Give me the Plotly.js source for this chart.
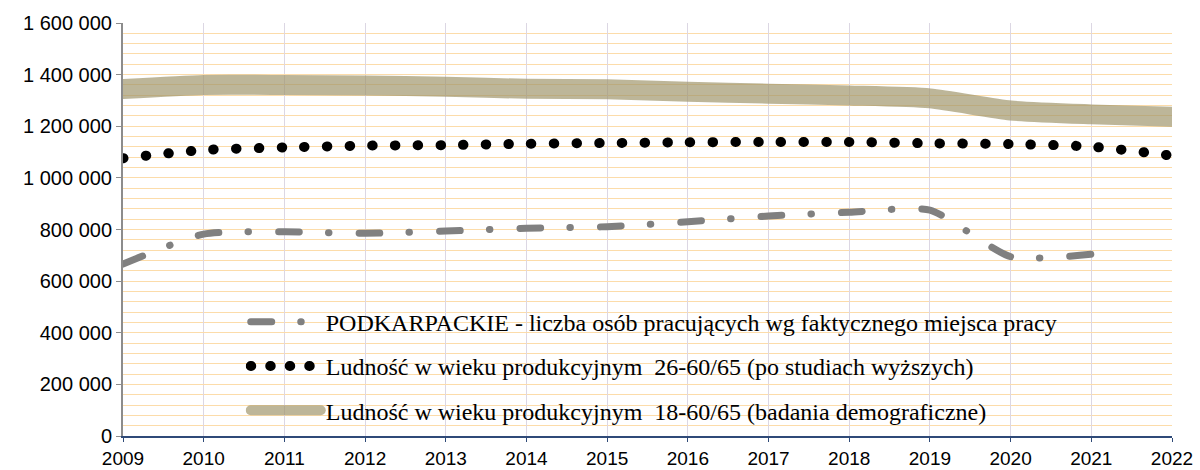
<!DOCTYPE html>
<html>
<head>
<meta charset="utf-8">
<script src="https://cdn.plot.ly/plotly-3.0.1.min.js"></script>
<style>
  html, body { margin: 0; padding: 0; background: #fff; }
  #chart { width: 1200px; height: 470px; }
  /* Excel-like rounded dashes and dots */
  .js-line, .legendlines path { stroke-linecap: round; }
  /* legend sample of the dotted series: slightly tighter dots, like Excel */
  .legend .groups:nth-child(2) .legendlines path { stroke-dasharray: 0.5px, 19px !important; }
</style>
</head>
<body>
<div id="chart"></div>
<script>
var years = [2009, 2010, 2011, 2012, 2013, 2014, 2015, 2016, 2017, 2018, 2019, 2020, 2021, 2022];

// liczba osób pracujących wg faktycznego miejsca pracy (brak danych za 2022)
var pracujacy = [666000, 782000, 791000, 785000, 794000, 805000, 811000, 830000, 852000, 867000, 875000, 695000, 704000, null];

// ludność w wieku produkcyjnym 26-60/65
var ludnosc26 = [1076000, 1108000, 1118000, 1125000, 1127000, 1132000, 1135000, 1138000, 1139000, 1139000, 1134000, 1131000, 1121000, 1086000];

// ludność w wieku produkcyjnym 18-60/65
var ludnosc18 = [1344000, 1360000, 1360000, 1358000, 1353000, 1345000, 1343000, 1334000, 1326000, 1319000, 1308000, 1261000, 1246000, 1237000];

var names = [
  "PODKARPACKIE - liczba osób pracujących wg faktycznego miejsca pracy",
  "Ludność w wieku produkcyjnym  26-60/65 (po studiach wyższych)",
  "Ludność w wieku produkcyjnym  18-60/65 (badania demograficzne)"
];

var traces = [
  {
    x: years, y: pracujacy, name: names[0], type: "scatter", mode: "lines",
    legendgroup: "a",
    line: {color: "#808080", width: 7, dash: "21px,29px,0.5px,30px", shape: "spline", smoothing: 0.6},
    connectgaps: false
  },
  {
    x: years, y: ludnosc26, name: names[1], type: "scatter", mode: "lines",
    legendgroup: "b",
    line: {color: "#000000", width: 10, dash: "0.5px,22.2px", shape: "spline", smoothing: 0.6}
  },
  {
    x: years, y: ludnosc18, name: names[2], type: "scatter", mode: "lines",
    legendgroup: "c",
    line: {color: "rgba(158,148,105,0.68)", width: 20, shape: "spline", smoothing: 0.6}
  }
];

var layout = {
  width: 1200,
  height: 470,
  margin: {l: 123, r: 28, t: 23, b: 34},
  paper_bgcolor: "#ffffff",
  plot_bgcolor: "#ffffff",
  separators: ", ",
  font: {family: "Liberation Sans, Arial, sans-serif", size: 20, color: "#000"},
  showlegend: true,
  legend: {
    x: 0.117, y: 0.33, xanchor: "left", yanchor: "top",
    bgcolor: "rgba(0,0,0,0)",
    traceorder: "grouped",
    tracegroupgap: 10,
    itemwidth: 70,
    font: {family: "Liberation Serif, Times New Roman, serif", size: 24, color: "#000"}
  },
  xaxis: {
    range: [2009, 2022],
    dtick: 1,
    tick0: 2009,
    showgrid: true,
    gridcolor: "#dcd7e3",
    gridwidth: 1,
    showline: true,
    linecolor: "#2f4a78",
    linewidth: 2,
    ticks: "outside",
    ticklen: 4,
    tickcolor: "#2f4a78",
    tickfont: {size: 19},
    zeroline: false,
    fixedrange: true
  },
  yaxis: {
    range: [0, 1600000],
    dtick: 200000,
    tickformat: ",d",
    showgrid: true,
    gridcolor: "#fcdcaa",
    gridwidth: 1,
    minor: {dtick: 40000, showgrid: true, gridcolor: "#fcdcaa", gridwidth: 1},
    showline: true,
    linecolor: "#8c8c8c",
    linewidth: 2,
    ticks: "outside",
    ticklen: 5,
    tickcolor: "#8c8c8c",
    tickfont: {size: 20},
    zeroline: false,
    fixedrange: true
  }
};

Plotly.newPlot("chart", traces, layout, {displayModeBar: false, staticPlot: true});
</script>
</body>
</html>
